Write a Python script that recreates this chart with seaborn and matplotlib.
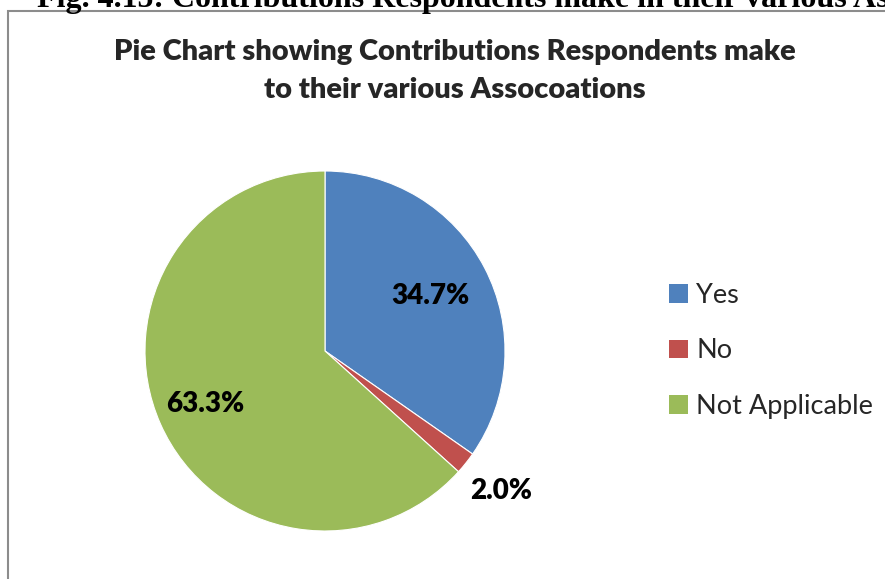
import numpy as np
import matplotlib
matplotlib.use("Agg")
import matplotlib.pyplot as plt
from matplotlib.patches import Rectangle, Patch
import seaborn as sns

categories = ["Yes", "No", "Not Applicable"]
values = [34.7, 2.0, 63.3]
colors = ["#4F81BD", "#C0504D", "#9BBB59"]
label_dist = [0.66, 1.25, 0.73]
title = "Pie Chart showing Contributions Respondents make\nto their various Assocoations"
caption = "Fig. 4.15: Contributions Respondents make in their various Associations"

sns.set_theme(style="white")
plt.rcParams['font.family'] = ['Lato', 'DejaVu Sans']

W, H = 885, 579
fig = plt.figure(figsize=(W / 100, H / 100), dpi=100)
fig.patch.set_facecolor("white")

# frame of chart area
fig.patches.append(Rectangle((8 / W, -0.1), 1.2, (H - 11) / H + 0.1,
                             transform=fig.transFigure, fill=False,
                             edgecolor="#8c8c8c", linewidth=1.5))

# cropped caption at top
fig.text(37 / W, (H - 7) / H, caption, family="Liberation Serif",
         fontweight="bold", fontsize=23, ha="left", va="baseline", color="black")

fig.text(455 / W, 1 - 71 / H, title, ha="center", va="center",
         fontsize=21, fontweight=800, linespacing=1.55)

cx, cy, r = 325, 351, 180
ax = fig.add_axes([(cx - r) / W, (H - cy - r) / H, 2 * r / W, 2 * r / H])
wedges, _ = ax.pie(values, colors=colors, startangle=90, counterclock=False,
                   radius=1.0, wedgeprops=dict(linewidth=0.8, edgecolor="white"))
ax.set_xlim(-1, 1)
ax.set_ylim(-1, 1)
ax.set_aspect("equal")
ax.axis("off")

for w, v, d in zip(wedges, values, label_dist):
    ang = np.deg2rad((w.theta1 + w.theta2) / 2)
    ax.text(d * np.cos(ang), d * np.sin(ang), f"{v:.1f}%", ha="center",
            va="center", fontsize=20, fontweight=800, color="black")

handles = [Patch(facecolor=c, edgecolor="none") for c in colors]
fig.legend(handles, categories, loc="center left",
           bbox_to_anchor=(645 / W, 1 - 351 / H), frameon=False,
           fontsize=19.5, handlelength=0.67, handleheight=0.67,
           handletextpad=0.33, labelspacing=1.12)

fig.savefig("out.png", dpi=100, facecolor="white")
